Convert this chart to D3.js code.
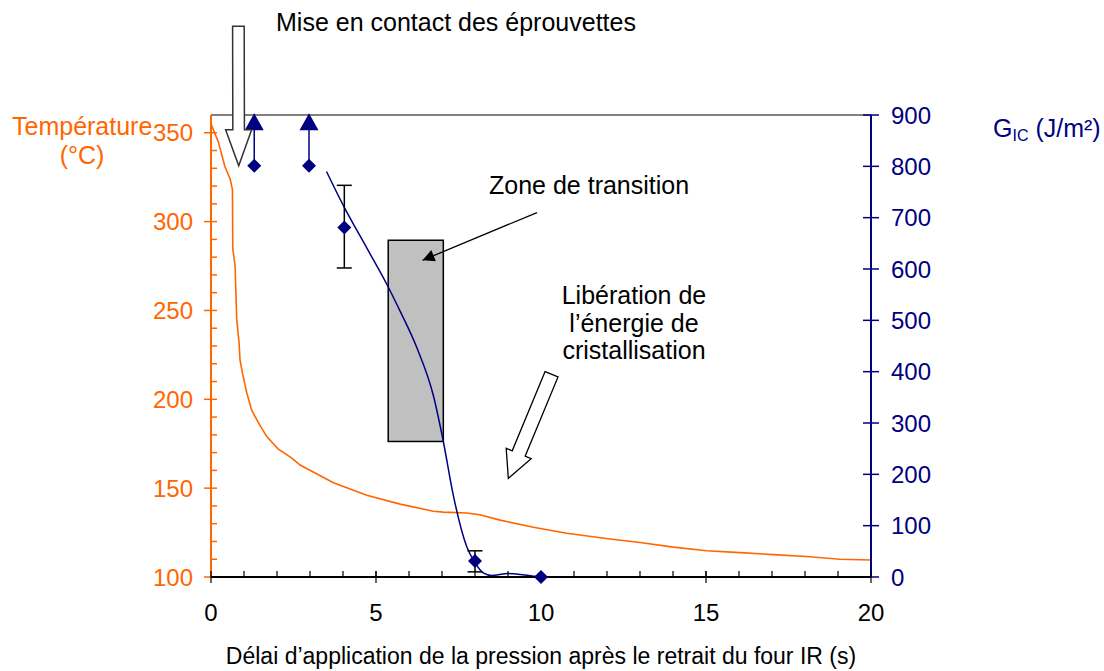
<!DOCTYPE html>
<html>
<head>
<meta charset="utf-8">
<script src="https://cdn.jsdelivr.net/npm/d3@7"></script>
<style>
  html, body { margin: 0; padding: 0; background: #fff; }
  svg { display: block; font-family: "Liberation Sans", Arial, sans-serif; }
</style>
</head>
<body>
<svg id="chart" width="1104" height="671"></svg>
<script>
// Cooling curve of the specimen (time in s, temperature in °C)
const tempTime = [0, 0.22, 0.42, 0.58, 0.65, 0.66, 0.73, 0.78, 0.85, 0.88, 0.95, 1.08, 1.23, 1.43, 1.69, 2.04, 2.44, 2.70, 3.71, 4.72, 5.73, 6.74, 7.04, 7.75, 8.15, 8.76, 9.77, 10.78, 12.09, 13.0, 14.01, 15.02, 16.03, 17.04, 18.05, 19.06, 20];
const tempValue = [355, 345, 331, 324, 318, 285, 275, 245, 232, 222, 215, 204, 194, 187, 179, 172, 167, 163, 153, 146, 141, 137, 136.5, 136, 135, 132, 128, 124.6, 121.4, 119.4, 116.8, 114.8, 113.7, 112.6, 111.5, 110, 109.6];

// Trend line for the fracture toughness G_IC (J/m²)
const fitTime = [3.5, 4.04, 4.72, 5.37, 5.73, 6.23, 6.74, 7.04, 7.34, 7.75, 8.0, 8.25, 8.5, 9.0, 9.5, 10.0, 10.3];
const fitGic = [790, 720, 641, 565, 518, 448, 353, 264, 160, 59, 28, 8, 3, 7, 4, 0, 0];

// Measured G_IC points with error bars (null = no bar)
const ptTime = [1.31, 2.97, 4.04, 8.0, 10.0];
const ptGic = [801, 801, 681, 31, 0];
const errLow = [null, null, 602, 10, null];
const errHigh = [null, null, 763, 51, null];

// Specimens that did not fail: value is a lower bound
const boundTime = [1.31, 2.97];
const boundGic = [886, 886];

// Transition zone
const zoneTime = [5.37, 7.04];
const zoneGic = [264, 656];

// Axis ticks
const tempTicks = [100, 150, 200, 250, 300, 350];
const gicTicks = [0, 100, 200, 300, 400, 500, 600, 700, 800, 900];
const timeTicks = [0, 5, 10, 15, 20];

const ORANGE = "#FF6600";
const NAVY = "#000080";

const svg = d3.select("#chart");
const x = d3.scaleLinear().domain([0, 20]).range([211, 871]);
const yT = d3.scaleLinear().domain([100, 360]).range([577, 115]);
const yG = d3.scaleLinear().domain([0, 900]).range([577, 115]);

// top border of the plot area
svg.append("line").attr("x1", x(0)).attr("x2", x(20)).attr("y1", yG(900)).attr("y2", yG(900))
  .attr("stroke", "#808080").attr("stroke-width", 2);

// transition zone
svg.append("rect")
  .attr("x", x(zoneTime[0])).attr("width", x(zoneTime[1]) - x(zoneTime[0]))
  .attr("y", yG(zoneGic[1])).attr("height", yG(zoneGic[0]) - yG(zoneGic[1]))
  .attr("fill", "#C0C0C0").attr("stroke", "#000").attr("stroke-width", 1.5);

// temperature curve
svg.append("path")
  .datum(tempTime.map((t, i) => [t, tempValue[i]]))
  .attr("fill", "none").attr("stroke", ORANGE).attr("stroke-width", 1.6)
  .attr("d", d3.line().x(d => x(d[0])).y(d => yT(d[1])));

// G_IC trend curve
svg.append("path")
  .datum(fitTime.map((t, i) => [t, fitGic[i]]))
  .attr("fill", "none").attr("stroke", NAVY).attr("stroke-width", 1.5)
  .attr("d", d3.line().curve(d3.curveMonotoneX).x(d => x(d[0])).y(d => yG(d[1])));

// ---- axes ----
const tickFont = 24;
// left (temperature) axis
const gL = svg.append("g");
gL.append("line").attr("x1", x(0)).attr("x2", x(0)).attr("y1", yT(100)).attr("y2", yT(360))
  .attr("stroke", ORANGE).attr("stroke-width", 2);
d3.range(110, 360, 10).forEach(v => {
  gL.append("line").attr("x1", x(0)).attr("x2", x(0) + 6).attr("y1", yT(v)).attr("y2", yT(v))
    .attr("stroke", ORANGE).attr("stroke-width", 1.5);
});
tempTicks.forEach(v => {
  gL.append("line").attr("x1", x(0) - 7).attr("x2", x(0)).attr("y1", yT(v)).attr("y2", yT(v))
    .attr("stroke", ORANGE).attr("stroke-width", 1.5);
  gL.append("text").attr("x", 193).attr("y", yT(v)).attr("dy", "0.36em")
    .attr("text-anchor", "end").attr("font-size", tickFont).attr("fill", ORANGE).text(v);
});

// right (G_IC) axis
const gR = svg.append("g");
gR.append("line").attr("x1", x(20)).attr("x2", x(20)).attr("y1", yG(0)).attr("y2", yG(900))
  .attr("stroke", NAVY).attr("stroke-width", 2);
gicTicks.forEach(v => {
  gR.append("line").attr("x1", x(20) - 8).attr("x2", x(20) + 8).attr("y1", yG(v)).attr("y2", yG(v))
    .attr("stroke", NAVY).attr("stroke-width", 1.5);
  gR.append("text").attr("x", 891).attr("y", yG(v)).attr("dy", "0.36em")
    .attr("text-anchor", "start").attr("font-size", tickFont).attr("fill", NAVY).text(v);
});

// bottom (time) axis
const gB = svg.append("g");
gB.append("line").attr("x1", x(0)).attr("x2", x(20)).attr("y1", yT(100)).attr("y2", yT(100))
  .attr("stroke", "#000").attr("stroke-width", 2);
d3.range(1, 20, 1).forEach(v => {
  gB.append("line").attr("x1", x(v)).attr("x2", x(v)).attr("y1", yT(100) - 6).attr("y2", yT(100))
    .attr("stroke", "#000").attr("stroke-width", 1.2);
});
timeTicks.forEach(v => {
  gB.append("line").attr("x1", x(v)).attr("x2", x(v)).attr("y1", yT(100) - 6).attr("y2", yT(100) + 6)
    .attr("stroke", "#000").attr("stroke-width", 1.2);
  gB.append("text").attr("x", x(v)).attr("y", 621)
    .attr("text-anchor", "middle").attr("font-size", tickFont).attr("fill", "#000").text(v);
});

// ---- measured points ----
// lower-bound connectors and triangles
boundTime.forEach((t, i) => {
  svg.append("line").attr("x1", x(t)).attr("x2", x(t)).attr("y1", yG(ptGic[i])).attr("y2", yG(boundGic[i]))
    .attr("stroke", NAVY).attr("stroke-width", 1.5);
  const cx = x(t), cy = yG(boundGic[i]);
  svg.append("path")
    .attr("d", `M${cx},${cy - 9}L${cx + 9.5},${cy + 8}L${cx - 9.5},${cy + 8}Z`)
    .attr("fill", NAVY);
});

// error bars
ptTime.forEach((t, i) => {
  if (errLow[i] === null) return;
  const g = svg.append("g").attr("stroke", "#000").attr("stroke-width", 1.5);
  g.append("line").attr("x1", x(t)).attr("x2", x(t)).attr("y1", yG(errLow[i])).attr("y2", yG(errHigh[i]));
  [errLow[i], errHigh[i]].forEach(v => {
    g.append("line").attr("x1", x(t) - 7.5).attr("x2", x(t) + 7.5).attr("y1", yG(v)).attr("y2", yG(v));
  });
});

// diamonds
ptTime.forEach((t, i) => {
  const cx = x(t), cy = yG(ptGic[i]);
  svg.append("path").attr("d", `M${cx},${cy - 7}L${cx + 7},${cy}L${cx},${cy + 7}L${cx - 7},${cy}Z`)
    .attr("fill", NAVY);
});

// ---- annotations ----
function hollowArrow(tail, tip, shaftHalf, headHalf, headLen) {
  const dx = tip[0] - tail[0], dy = tip[1] - tail[1];
  const L = Math.hypot(dx, dy);
  const ux = dx / L, uy = dy / L, nx = -uy, ny = ux;
  const bx = tip[0] - ux * headLen, by = tip[1] - uy * headLen;
  const p = [
    [tail[0] + nx * shaftHalf, tail[1] + ny * shaftHalf],
    [bx + nx * shaftHalf, by + ny * shaftHalf],
    [bx + nx * headHalf, by + ny * headHalf],
    tip,
    [bx - nx * headHalf, by - ny * headHalf],
    [bx - nx * shaftHalf, by - ny * shaftHalf],
    [tail[0] - nx * shaftHalf, tail[1] - ny * shaftHalf]
  ];
  return "M" + p.map(q => q.join(",")).join("L") + "Z";
}

// contact arrow
svg.append("path")
  .attr("d", hollowArrow([x(0.83), yG(1073)], [x(0.84), yG(801)], 5.8, 13, 36))
  .attr("fill", "#fff").attr("stroke", "#333").attr("stroke-width", 1.5);

// crystallisation arrow
svg.append("path")
  .attr("d", hollowArrow([x(10.32), yG(395)], [x(9.01), yG(192)], 7, 13.5, 27))
  .attr("fill", "#fff").attr("stroke", "#000").attr("stroke-width", 1.3);

// transition zone pointer
svg.append("defs").append("marker")
  .attr("id", "head").attr("viewBox", "0 0 10 10").attr("refX", 10).attr("refY", 5)
  .attr("markerWidth", 17).attr("markerHeight", 12).attr("markerUnits", "userSpaceOnUse")
  .attr("orient", "auto")
  .append("path").attr("d", "M0,0L10,5L0,10Z").attr("fill", "#000");
svg.append("line")
  .attr("x1", x(9.88)).attr("y1", yG(710)).attr("x2", x(6.41)).attr("y2", yG(617))
  .attr("stroke", "#000").attr("stroke-width", 1.3).attr("marker-end", "url(#head)");

const labelFont = 25;
svg.append("text").attr("x", 276).attr("y", 31).attr("font-size", labelFont).text("Mise en contact des éprouvettes");
svg.append("text").attr("x", 489).attr("y", 194).attr("font-size", labelFont).text("Zone de transition");
const lib = svg.append("text").attr("x", 634).attr("y", 304).attr("font-size", labelFont).attr("text-anchor", "middle");
["Libération de", "l’énergie de", "cristallisation"].forEach((s, i) => {
  lib.append("tspan").attr("x", 634).attr("dy", i === 0 ? 0 : 27.5).text(s);
});

// axis titles
svg.append("text").attr("x", 12).attr("y", 135).attr("font-size", labelFont).attr("fill", ORANGE).text("Température");
svg.append("text").attr("x", 82).attr("y", 164).attr("font-size", labelFont).attr("fill", ORANGE)
  .attr("text-anchor", "middle").text("(°C)");
const gt = svg.append("text").attr("x", 993).attr("y", 137).attr("font-size", 25).attr("fill", NAVY);
gt.append("tspan").text("G");
gt.append("tspan").attr("font-size", 16).attr("dy", 4).text("IC");
gt.append("tspan").attr("dy", -4).text(" (J/m²)");

svg.append("text").attr("x", 541).attr("y", 664).attr("font-size", 23)
  .attr("text-anchor", "middle").text("Délai d’application de la pression après le retrait du four IR (s)");
</script>
</body>
</html>
